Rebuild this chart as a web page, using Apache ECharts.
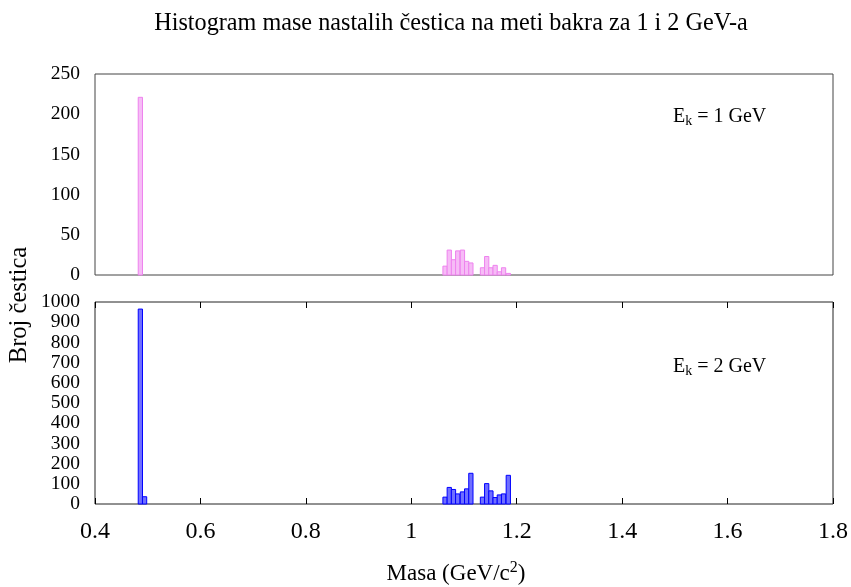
<!DOCTYPE html>
<html>
<head>
<meta charset="utf-8">
<script src="https://cdn.jsdelivr.net/npm/echarts@6/dist/echarts.min.js"></script>
<style>html,body{margin:0;padding:0;background:#fff}#c{width:851px;height:587px}</style>
</head>
<body>
<div id="c"></div>
<script>
// Bin width (GeV/c^2)
var binWidth = 0.0081;
// Upper panel (E_k = 1 GeV): left edges of bins and counts
var edges1 = [0.482, 1.060, 1.068, 1.076, 1.084, 1.093, 1.101, 1.109, 1.131, 1.139, 1.147, 1.155, 1.163, 1.171, 1.180];
var counts1 = [221, 11, 31, 19, 30, 31, 17, 15, 9, 23, 9, 12, 4, 9, 2];
// Lower panel (E_k = 2 GeV)
var edges2 = [0.482, 0.490, 1.060, 1.068, 1.076, 1.084, 1.093, 1.101, 1.109, 1.131, 1.139, 1.147, 1.155, 1.163, 1.171, 1.180];
var counts2 = [965, 36, 34, 82, 72, 50, 60, 75, 152, 34, 101, 65, 32, 45, 50, 142];
// Axes
var xTicks = [0.4, 0.6, 0.8, 1, 1.2, 1.4, 1.6, 1.8];
var yTicks1 = [0, 50, 100, 150, 200, 250];
var yTicks2 = [0, 100, 200, 300, 400, 500, 600, 700, 800, 900, 1000];

var FONT = '"Liberation Serif", "DejaVu Serif", serif';

function makeRender(fill, stroke) {
  return function (params, api) {
    var x0 = api.value(0), h = api.value(1);
    var p0 = api.coord([x0, 0]);
    var p1 = api.coord([x0 + binWidth, h]);
    return {
      type: 'rect',
      shape: { x: p0[0], y: p1[1], width: p1[0] - p0[0], height: p0[1] - p1[1] },
      style: { fill: fill, stroke: stroke, lineWidth: 1 }
    };
  };
}
function pairs(e, c) { return e.map(function (v, i) { return [v, c[i]]; }); }

var ekRich = {
  m: { fontFamily: FONT, fontSize: 20, fontWeight: 'normal', color: '#000' },
  s: { fontFamily: FONT, fontSize: 14, fontWeight: 'normal', color: '#000', verticalAlign: 'bottom', padding: [9, 0, 0, 0] }
};

var chart = echarts.init(document.getElementById('c'), null, { renderer: 'canvas' });
var xMin = xTicks[0], xMax = xTicks[xTicks.length - 1];
chart.setOption({
  backgroundColor: '#fff',
  animation: false,
  title: [
    { text: 'Histogram mase nastalih čestica na meti bakra za 1 i 2 GeV-a', left: 446, top: 7, textAlign: 'center',
      textStyle: { fontFamily: FONT, fontSize: 24.2, fontWeight: 'normal', color: '#000' } },
    { text: '{m|E}{s|k}{m| = 1 GeV}', left: 668, top: 100, textStyle: { fontWeight: 'normal', rich: ekRich } },
    { text: '{m|E}{s|k}{m| = 2 GeV}', left: 668, top: 350, textStyle: { fontWeight: 'normal', rich: ekRich } }
  ],
  grid: [
    { left: 95, right: 18, top: 74, height: 201, show: true, borderColor: '#444', borderWidth: 1, backgroundColor: 'transparent' },
    { left: 95, right: 18, top: 302, height: 202, show: true, borderColor: '#222', borderWidth: 1, backgroundColor: 'transparent' }
  ],
  xAxis: [
    { type: 'value', gridIndex: 0, min: xMin, max: xMax, interval: 0.2,
      axisLine: { show: false }, axisTick: { show: false }, axisLabel: { show: false }, splitLine: { show: false } },
    { type: 'value', gridIndex: 1, min: xMin, max: xMax, interval: 0.2, position: 'bottom',
      name: '{m|Masa (GeV/c}{s|2}{m|)}', nameLocation: 'middle', nameGap: 56,
      nameTextStyle: { padding: [0, 16, 0, 0], rich: { m: { fontFamily: FONT, fontSize: 23, color: '#000' }, s: { fontFamily: FONT, fontSize: 16, color: '#000', verticalAlign: 'top', padding: [0, 0, 12, 0] } } },
      axisLine: { show: false }, axisTick: { show: true, inside: true, length: 6, lineStyle: { color: '#000' } },
      axisLabel: { fontFamily: FONT, fontSize: 24, color: '#000', margin: 16,
        formatter: function (v) { return xTicks.indexOf(+v.toFixed(1)) >= 0 ? String(+v.toFixed(1)) : ''; } },
      splitLine: { show: false } },
    { type: 'value', gridIndex: 1, min: xMin, max: xMax, interval: 0.2, position: 'top',
      axisLine: { show: false }, axisTick: { show: true, inside: true, length: 6, lineStyle: { color: '#000' } },
      axisLabel: { show: false }, splitLine: { show: false } }
  ],
  yAxis: [
    { type: 'value', gridIndex: 0, min: yTicks1[0], max: yTicks1[yTicks1.length - 1], interval: 50,
      axisLine: { show: false }, axisTick: { show: false }, splitLine: { show: false },
      axisLabel: { fontFamily: FONT, fontSize: 19.5, color: '#000', margin: 15, formatter: function (v) { return String(v); } } },
    { type: 'value', gridIndex: 1, min: yTicks2[0], max: yTicks2[yTicks2.length - 1], interval: 100,
      axisLine: { show: false }, axisTick: { show: false }, splitLine: { show: false },
      axisLabel: { fontFamily: FONT, fontSize: 19.5, color: '#000', margin: 15, formatter: function (v) { return String(v); } } }
  ],
  graphic: [
    { type: 'text', x: 20, y: 305, rotation: Math.PI / 2,
      style: { text: 'Broj čestica', fontFamily: FONT, fontSize: 24.5, fill: '#000', textAlign: 'center', textVerticalAlign: 'middle' } }
  ],
  series: [
    { type: 'custom', xAxisIndex: 0, yAxisIndex: 0, data: pairs(edges1, counts1), encode: { x: 0, y: 1 },
      renderItem: makeRender('#f6bcf6', '#ee82ee') },
    { type: 'custom', xAxisIndex: 1, yAxisIndex: 1, data: pairs(edges2, counts2), encode: { x: 0, y: 1 },
      renderItem: makeRender('#6f6fff', '#0000ff') }
  ]
});
</script>
</body>
</html>
